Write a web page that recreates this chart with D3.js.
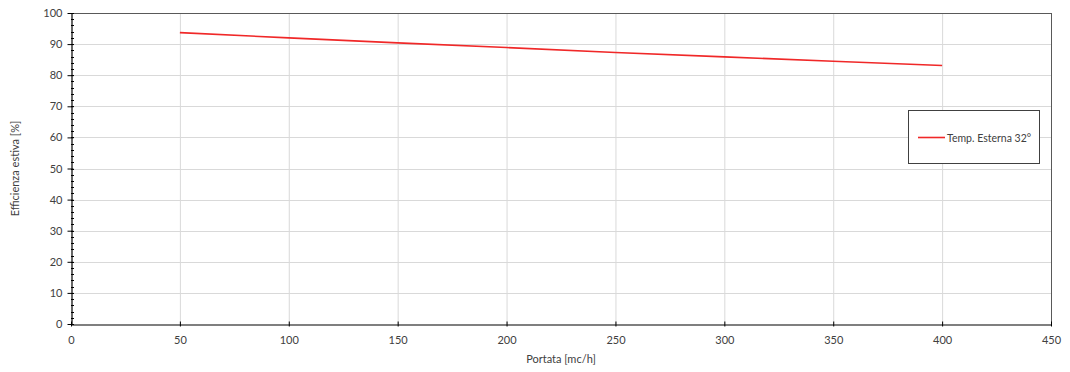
<!DOCTYPE html>
<html><head><meta charset="utf-8">
<script src="https://cdn.jsdelivr.net/npm/d3@7"></script>
<style>body{margin:0;background:#fff}svg{display:block}text{font-family:Lato,"Open Sans",sans-serif;fill:#404040}</style>
</head><body><svg id="c" width="1070" height="372"></svg>
<script>
const portata = [50, 100, 150, 200, 250, 300, 350, 400];
const efficienza = [93.7, 92.0, 90.4, 88.9, 87.3, 85.9, 84.5, 83.1];
const seriesName = "Temp. Esterna 32°";
const xTicks = [0, 50, 100, 150, 200, 250, 300, 350, 400, 450];
const yTicks = [0, 10, 20, 30, 40, 50, 60, 70, 80, 90, 100];
const yMinor = d3.range(0, 101, 2);

const svg = d3.select("#c");
const L = 71, R = 1051, T = 13, B = 324;
const x = d3.scaleLinear().domain([0, 450]).range([L, R]);
const y = d3.scaleLinear().domain([0, 100]).range([B, T]);

// grid
svg.append("g").selectAll("line").data(xTicks.slice(1, -1)).join("line")
  .attr("x1", d => x(d)+0.5).attr("x2", d => x(d)+0.5).attr("y1", T).attr("y2", B)
  .attr("stroke", "#d9d9d9").attr("stroke-width", 1);
svg.append("g").selectAll("line").data(yTicks.slice(1, -1)).join("line")
  .attr("y1", d => Math.round(y(d))+0.5).attr("y2", d => Math.round(y(d))+0.5).attr("x1", L).attr("x2", R)
  .attr("stroke", "#d9d9d9").attr("stroke-width", 1);

// top/right border
svg.append("line").attr("x1", L).attr("x2", R).attr("y1", T+0.5).attr("y2", T+0.5).attr("stroke", "#595959");
svg.append("line").attr("x1", R+0.5).attr("x2", R+0.5).attr("y1", T).attr("y2", B).attr("stroke", "#595959");

// y minor ticks
svg.append("g").selectAll("line").data(yMinor).join("line")
  .attr("x1", L).attr("x2", L+3).attr("y1", d => Math.round(y(d))+0.5).attr("y2", d => Math.round(y(d))+0.5)
  .attr("stroke", "#000");

// axes
const yAxis = svg.append("g").attr("transform", `translate(${L+0.5},0)`)
  .call(d3.axisLeft(y).tickValues(yTicks).tickSizeInner(5).tickSizeOuter(0).tickPadding(4));
yAxis.selectAll(".tick line").attr("x2", -4).attr("x1", 2);
const xAxis = svg.append("g").attr("transform", `translate(0,${B+0.5})`)
  .call(d3.axisBottom(x).tickValues(xTicks).tickSizeInner(4).tickSizeOuter(0).tickPadding(8));
xAxis.selectAll(".tick line").attr("y1", -3).attr("y2", 2);
[yAxis, xAxis].forEach(a => {
  a.select(".domain").attr("stroke", "#000").attr("stroke-width", 1.2);
  a.selectAll(".tick line").attr("stroke", "#000");
  a.selectAll(".tick text").attr("font-size", 11).attr("fill", "#404040").style("font-family", "Lato, 'Open Sans', sans-serif");
});

// series
svg.append("path").datum(portata.map((p, i) => [p, efficienza[i]]))
  .attr("d", d3.line().x(d => x(d[0])).y(d => y(d[1])))
  .attr("fill", "none").attr("stroke", "#f02828").attr("stroke-width", 1.6);

// titles
svg.append("text").attr("x", (L+R)/2).attr("y", 363).attr("text-anchor", "middle").attr("font-size", 11).text("Portata [mc/h]");
svg.append("text").attr("transform", `translate(19,${(T+B)/2}) rotate(-90)`).attr("text-anchor", "middle").attr("font-size", 11).text("Efficienza estiva [%]");

// legend
const lg = svg.append("g");
lg.append("rect").attr("x", 908.5).attr("y", 110.5).attr("width", 131).attr("height", 53)
  .attr("fill", "#fff").attr("stroke", "#404040").attr("stroke-width", 1);
lg.append("line").attr("x1", 918).attr("x2", 945).attr("y1", 137.5).attr("y2", 137.5).attr("stroke", "#f02828").attr("stroke-width", 1.6);
lg.append("text").attr("x", 947).attr("y", 141.5).attr("font-size", 10.5).text(seriesName);
</script></body></html>
